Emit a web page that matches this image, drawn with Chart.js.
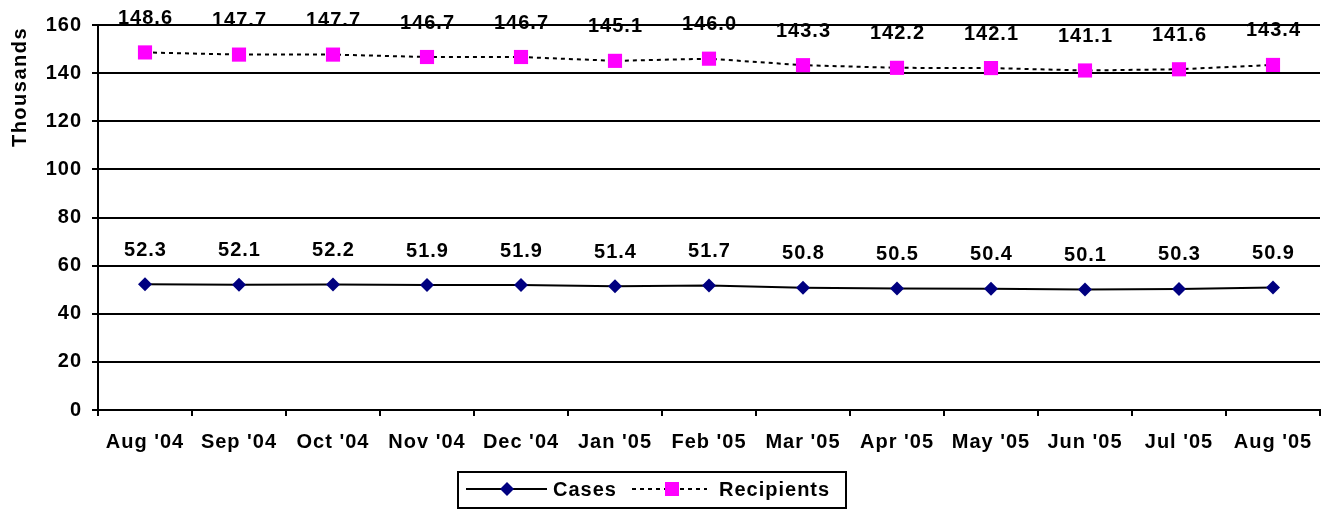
<!DOCTYPE html>
<html>
<head>
<meta charset="utf-8">
<script src="https://cdn.jsdelivr.net/npm/chart.js@4/dist/chart.umd.min.js"></script>
<style>
html,body{margin:0;padding:0;background:#fff;}
#wrap{width:1330px;height:510px;position:relative;}
</style>
</head>
<body>
<div id="wrap"><canvas id="c" width="1330" height="510"></canvas></div>
<script>
const categories = ["Aug '04","Sep '04","Oct '04","Nov '04","Dec '04","Jan '05","Feb '05","Mar '05","Apr '05","May '05","Jun '05","Jul '05","Aug '05"];
const casesValues = [52.3,52.1,52.2,51.9,51.9,51.4,51.7,50.8,50.5,50.4,50.1,50.3,50.9];
const recipientsValues = [148.6,147.7,147.7,146.7,146.7,145.1,146.0,143.3,142.2,142.1,141.1,141.6,143.4];
const seriesNames = ["Cases","Recipients"];
const axisTitle = "Thousands";
const yTicks = {min:0, max:160, step:20};

const FONT = "'Liberation Sans', Arial, sans-serif";

const spacingPlugin = {
  id:'spacing',
  beforeUpdate(chart){ chart.ctx.letterSpacing='1px'; },
  beforeLayout(chart){ chart.ctx.letterSpacing='1px'; },
  beforeDraw(chart){ chart.ctx.letterSpacing='1px'; }
};

const labelsPlugin = {
  id:'dataLabels',
  afterDatasetsDraw(chart){
    const ctx = chart.ctx;
    ctx.save();
    ctx.letterSpacing='1px';
    ctx.font = 'bold 20px ' + FONT;
    ctx.fillStyle = '#000';
    ctx.textAlign = 'center';
    ctx.textBaseline = 'middle';
    chart.data.datasets.forEach((ds, i) => {
      const meta = chart.getDatasetMeta(i);
      meta.data.forEach((pt, j) => {
        ctx.fillText(ds.data[j].toFixed(1), pt.x + 0.5, pt.y - 34);
      });
    });
    ctx.restore();
  }
};

const extrasPlugin = {
  id:'extras',
  afterDraw(chart){
    const ctx = chart.ctx;
    ctx.save();
    // axis title
    ctx.letterSpacing='1.5px';
    ctx.font = 'bold 20px ' + FONT;
    ctx.fillStyle = '#000';
    ctx.translate(20, 87);
    ctx.rotate(-Math.PI/2);
    ctx.textAlign='center';
    ctx.textBaseline='middle';
    ctx.fillText(axisTitle, 0, 0);
    ctx.restore();

    // legend
    ctx.save();
    ctx.strokeStyle='#000';
    ctx.lineWidth=2;
    ctx.strokeRect(458, 472, 388, 36);
    const ly = 489;
    const ds0 = chart.data.datasets[0], ds1 = chart.data.datasets[1];
    // Cases
    ctx.beginPath();
    ctx.strokeStyle = ds0.borderColor;
    ctx.lineWidth = 2;
    ctx.moveTo(466, ly); ctx.lineTo(547, ly); ctx.stroke();
    ctx.fillStyle = ds0.pointBackgroundColor;
    ctx.beginPath();
    ctx.moveTo(507-7, ly); ctx.lineTo(507, ly-7); ctx.lineTo(507+7, ly); ctx.lineTo(507, ly+7); ctx.closePath(); ctx.fill();
    // Recipients
    ctx.beginPath();
    ctx.setLineDash([4,4]);
    ctx.strokeStyle = ds1.borderColor;
    ctx.moveTo(632, ly); ctx.lineTo(707, ly); ctx.stroke();
    ctx.setLineDash([]);
    ctx.fillStyle = ds1.pointBackgroundColor;
    ctx.fillRect(672-7, ly-7, 14, 14);
    // texts
    ctx.letterSpacing='1px';
    ctx.font = 'bold 20px ' + FONT;
    ctx.fillStyle='#000';
    ctx.textAlign='left';
    ctx.textBaseline='middle';
    ctx.fillText(seriesNames[0], 553, ly+1);
    ctx.fillText(seriesNames[1], 719, ly+1);
    ctx.restore();
  }
};

new Chart(document.getElementById('c'), {
  type:'line',
  data:{
    labels: categories,
    datasets:[
      {
        label: seriesNames[0],
        data: casesValues,
        borderColor:'#000000',
        borderWidth:2,
        pointStyle:'rectRot',
        pointRadius:7,
        pointBackgroundColor:'#000080',
        pointBorderColor:'#000080',
        pointBorderWidth:0,
        tension:0,
        fill:false
      },
      {
        label: seriesNames[1],
        data: recipientsValues,
        borderColor:'#000000',
        borderWidth:2,
        borderDash:[4,4],
        pointStyle:'rect',
        pointRadius:10,
        pointBackgroundColor:'#FF00FF',
        pointBorderColor:'#FF00FF',
        pointBorderWidth:0,
        tension:0,
        fill:false
      }
    ]
  },
  options:{
    responsive:false,
    animation:false,
    events:[],
    layout:{padding:{top:25,right:9,bottom:0,left:0}},
    plugins:{legend:{display:false}, tooltip:{enabled:false}},
    scales:{
      x:{
        offset:true,
        grid:{display:true, drawOnChartArea:false, drawTicks:true, tickLength:6, color:'#000', lineWidth:2, offset:true},
        border:{display:true, color:'#000', width:2},
        ticks:{font:{family:FONT, size:20, weight:'bold'}, color:'#000', padding:14, maxRotation:0, autoSkip:false},
        afterFit(scale){ scale.height = 100; }
      },
      y:{
        min:yTicks.min, max:yTicks.max,
        grid:{color:'#000', lineWidth:2, tickLength:6, drawTicks:true},
        border:{display:true, color:'#000', width:2},
        ticks:{stepSize:yTicks.step, font:{family:FONT, size:20, weight:'bold'}, color:'#000', padding:10},
        afterFit(scale){ scale.width = 98; }
      }
    }
  },
  plugins:[spacingPlugin, labelsPlugin, extrasPlugin]
});
</script>
</body>
</html>
